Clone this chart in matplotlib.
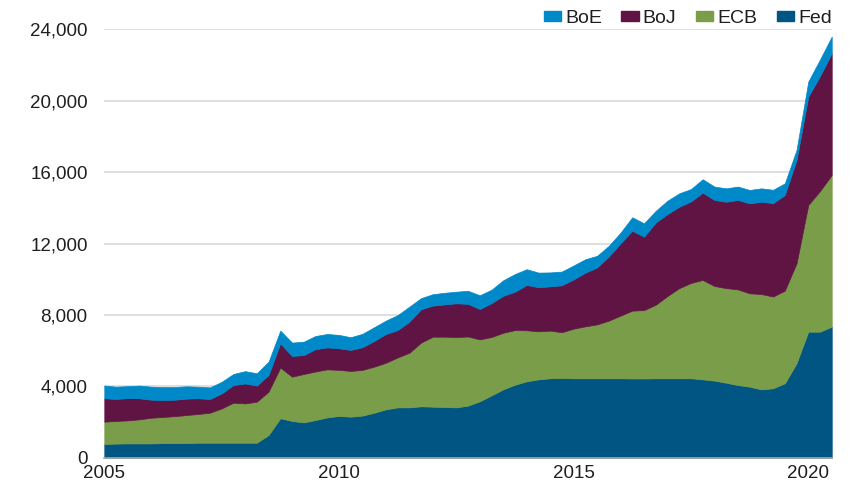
import numpy as np
import matplotlib
matplotlib.use('Agg')
import matplotlib.pyplot as plt
from matplotlib.patches import Patch
from matplotlib.ticker import FuncFormatter

# quarterly points, 2005 to mid-2020 (US$ bn)
quarters = np.arange(2005.0, 2020.51, 0.25)

fed = [770, 790, 800, 800, 800, 820, 820, 820, 840, 840,
       840, 840, 840, 840, 1270, 2210, 2060, 1980, 2110, 2260,
       2340, 2300, 2360, 2520, 2710, 2820, 2820, 2880, 2860, 2840,
       2820, 2920, 3160, 3490, 3830, 4090, 4280, 4390, 4450, 4470,
       4450, 4450, 4450, 4450, 4450, 4440, 4440, 4450, 4450, 4450,
       4450, 4390, 4320, 4200, 4070, 3980, 3830, 3890, 4170, 5290,
       7060, 7060, 7340]
ecb = [1250, 1270, 1290, 1350, 1440, 1460, 1510, 1570, 1610, 1680,
       1920, 2240, 2200, 2300, 2430, 2840, 2480, 2710, 2720, 2690,
       2580, 2560, 2560, 2580, 2610, 2800, 3060, 3570, 3920, 3940,
       3940, 3870, 3470, 3270, 3170, 3060, 2860, 2690, 2670, 2560,
       2780, 2910, 3020, 3230, 3510, 3800, 3830, 4120, 4610, 5050,
       5340, 5570, 5300, 5300, 5360, 5230, 5340, 5140, 5190, 5600,
       7100, 7880, 8500]
boj = [1310, 1230, 1250, 1180, 1010, 950, 920, 920, 880, 770,
       840, 990, 1120, 900, 930, 1360, 1160, 1060, 1250, 1230,
       1210, 1180, 1270, 1440, 1610, 1530, 1740, 1870, 1740, 1810,
       1890, 1830, 1700, 1900, 2070, 2150, 2540, 2470, 2480, 2630,
       2760, 3010, 3190, 3590, 4050, 4480, 4110, 4610, 4590, 4560,
       4570, 4890, 4820, 4840, 5010, 5040, 5170, 5230, 5360, 5790,
       6070, 6440, 6820]
boe = [710, 690, 670, 710, 730, 730, 710, 690, 650, 650,
       650, 620, 690, 690, 750, 710, 750, 750, 740, 750,
       750, 710, 750, 770, 750, 840, 840, 620, 640, 650,
       650, 730, 770, 750, 870, 990, 880, 820, 780, 770,
       780, 750, 650, 600, 600, 750, 750, 650, 750, 750,
       690, 750, 750, 750, 750, 750, 750, 750, 650, 560,
       840, 930, 930]

series_names = ['Fed', 'ECB', 'BoJ', 'BoE']
series_colors = ['#005582', '#7A9D4A', '#601443', '#0089C8']
year_ticks = [2005, 2010, 2015, 2020]
value_ticks = [0, 4000, 8000, 12000, 16000, 20000, 24000]

text_color = '#1f1f1f'
plt.rcParams['font.family'] = ['Liberation Sans', 'DejaVu Sans']

fig = plt.figure(figsize=(8.5, 4.82), dpi=100)
ax = fig.add_axes([0.1227, 0.0504, 0.8558, 0.8888])

ax.stackplot(quarters, fed, ecb, boj, boe, colors=series_colors,
             linewidth=0.5, edgecolor='face')

ax.set_xlim(2005.0, 2020.5)
ax.set_ylim(0, 24000)
ax.set_xticks(year_ticks)
ax.set_yticks(value_ticks)
ax.yaxis.set_major_formatter(FuncFormatter(lambda v, p: f'{int(v):,}'))

ax.grid(axis='y', color='#D9D9D9', linewidth=1.2)
ax.set_axisbelow(True)

for s in ['top', 'right', 'left']:
    ax.spines[s].set_visible(False)
ax.spines['bottom'].set_color('#A6A6A6')
ax.spines['bottom'].set_linewidth(1.2)
ax.spines['bottom'].set_zorder(5)

ax.tick_params(axis='y', length=0, pad=12, labelsize=13.5, colors=text_color)
ax.tick_params(axis='x', length=0, pad=5.5, labelsize=13.5, colors=text_color)

handles = [Patch(color=c, label=n) for n, c in zip(series_names, series_colors)][::-1]
leg = ax.legend(handles=handles, loc='lower right', bbox_to_anchor=(1.0, 1.005),
                ncol=4, frameon=False, fontsize=14, handlelength=0.9,
                handleheight=0.45, handletextpad=0.2, columnspacing=1.0,
                borderaxespad=0.0, borderpad=0.0)
for t in leg.get_texts():
    t.set_color(text_color)

fig.savefig('out.png', dpi=100)
